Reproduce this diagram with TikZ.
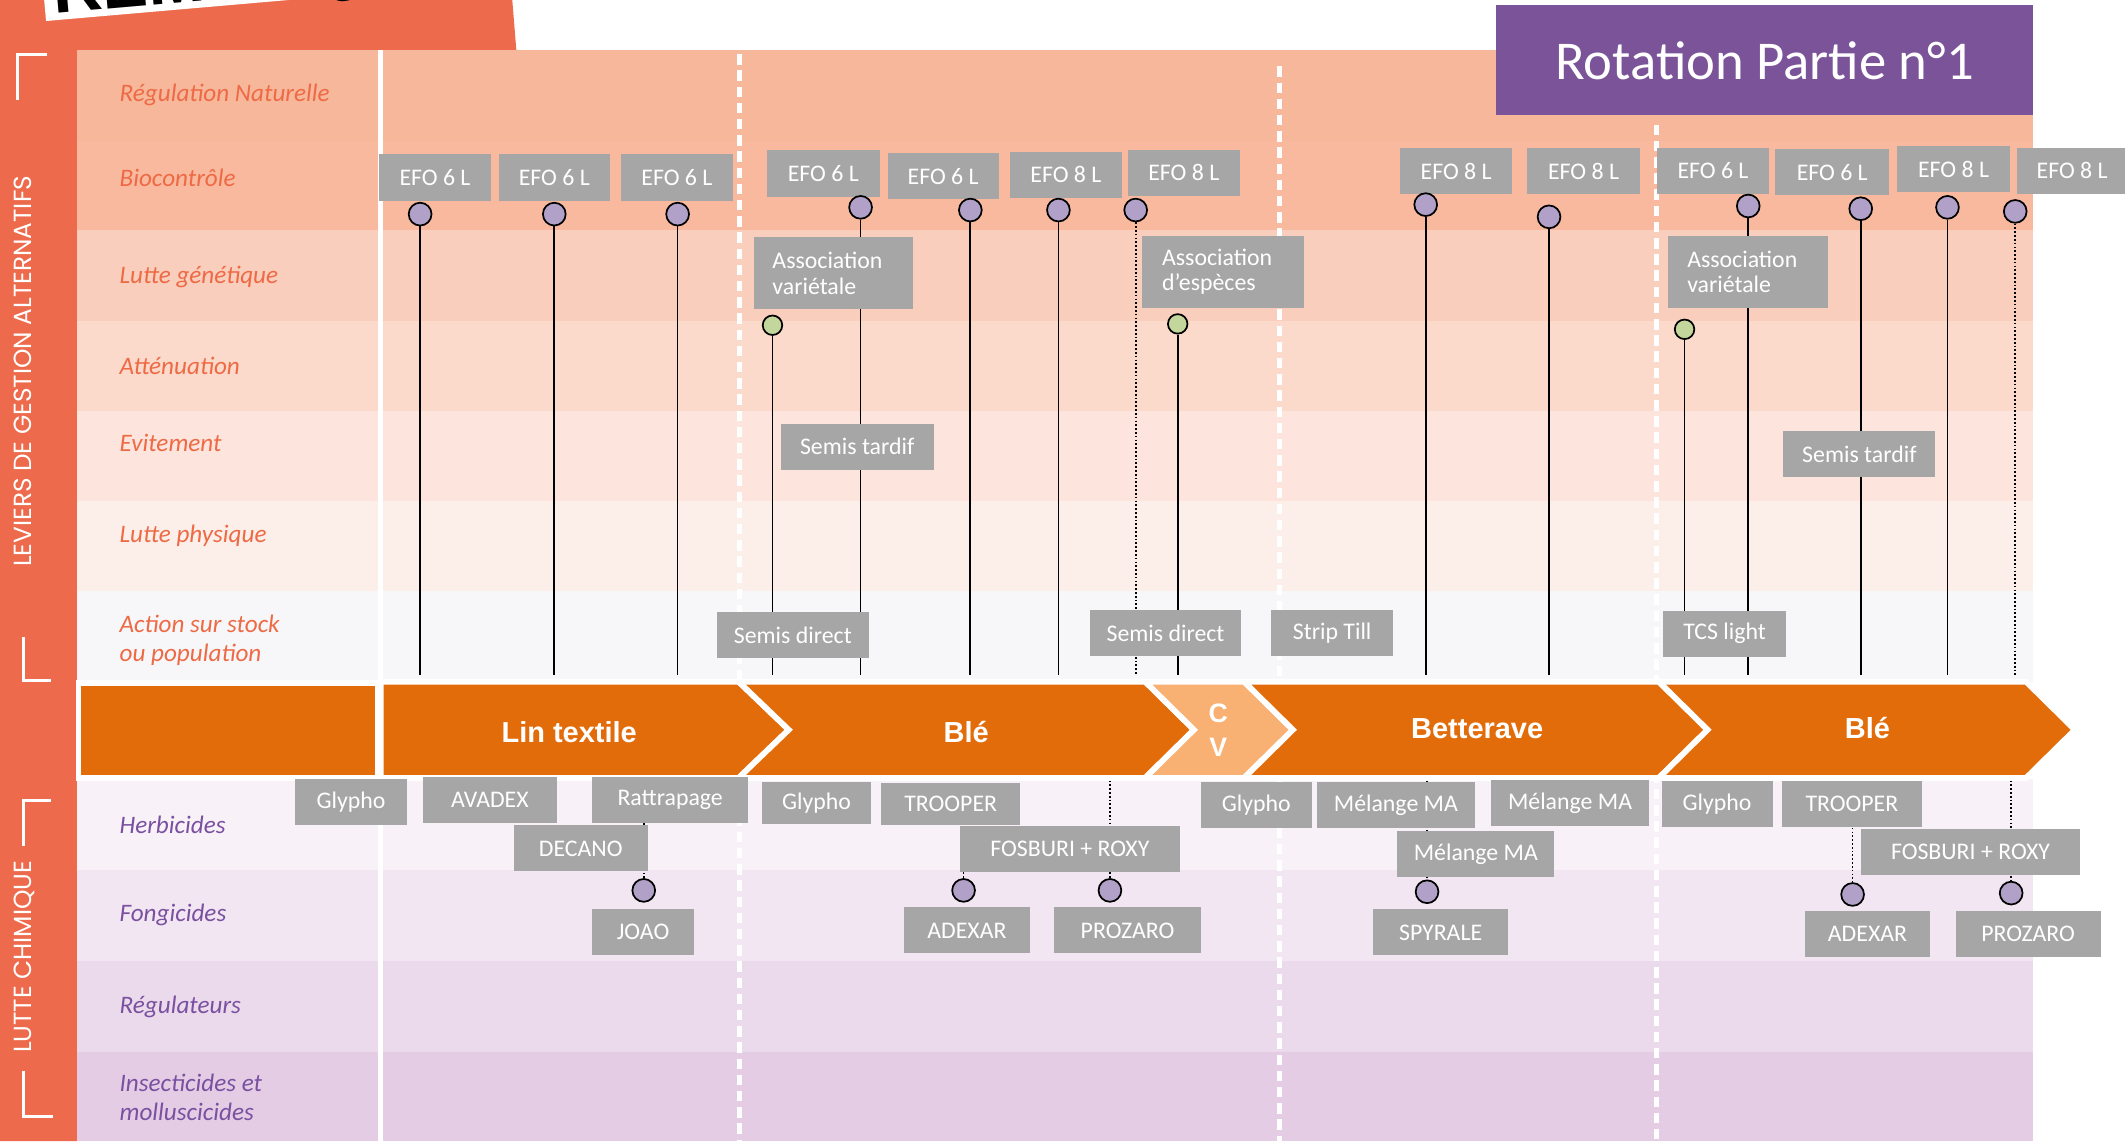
\documentclass[tikz,border=0pt]{standalone}
\usepackage{fontspec}
\setmainfont{Carlito}
\newfontfamily\arialfont{Liberation Sans}
\newfontfamily\sidefont{Poppins}

%colours
\definecolor{strip}{HTML}{ED6B4C}
\definecolor{rowA}{HTML}{F7B79B}
\definecolor{rowB}{HTML}{F8B99E}
\definecolor{rowC}{HTML}{F9CEBC}
\definecolor{rowD}{HTML}{FBDACB}
\definecolor{rowE}{HTML}{FDE5DD}
\definecolor{rowF}{HTML}{FCEFEA}
\definecolor{rowG}{HTML}{F7F7F9}
\definecolor{rowH}{HTML}{F8F2F8}
\definecolor{rowI}{HTML}{F2E6F2}
\definecolor{rowJ}{HTML}{EBDAEB}
\definecolor{rowK}{HTML}{E4CCE4}
\definecolor{band}{HTML}{E36C0A}
\definecolor{cvband}{HTML}{F8B073}
\definecolor{boxgray}{HTML}{A6A6A6}
\definecolor{dotpurple}{HTML}{B1A0C7}
\definecolor{dotgreen}{HTML}{C3D69B}
\definecolor{titlepurple}{HTML}{7B5399}
\definecolor{laborange}{HTML}{EE6A45}
\definecolor{labpurple}{HTML}{7A50A0}

\pgfdeclarelayer{rows}
\pgfdeclarelayer{links}
\pgfsetlayers{rows,links,main}

\begin{document}
\begin{tikzpicture}[x=0.025cm, y=-0.025cm,
    gbox/.style={fill=boxgray, text=white, inner sep=0pt,
        minimum width=#1*0.025cm, minimum height=0.85cm,
        font=\fontsize{12.5}{13.5}\selectfont},
    gbox/.default=82,
    assoc/.style={gbox=#1, minimum height=1.325cm, text width=2.25cm, align=left},
    assoc/.default=118,
    rowlab/.style={anchor=west, align=left, inner xsep=0pt, text=laborange,
        font=\fontsize{13.2}{15}\selectfont\itshape},
    chemlab/.style={rowlab, text=labpurple},
    bandlab/.style={text=white, font=\arialfont\bfseries\fontsize{15.2}{17}\selectfont},
    sidelab/.style={text=white, rotate=90, font=\sidefont\fontsize{13}{14}\selectfont},
    sidebracket/.style={white, line width=1.6pt},
    pdot/.style={circle, draw=black, line width=0.9pt, fill=dotpurple,
        minimum size=0.42cm, inner sep=0pt},
    gdot/.style={pdot, fill=dotgreen, minimum size=0.36cm},
    stemline/.style={line width=0.9pt},
    dotline/.style={line width=0.9pt, dash pattern=on 0.9pt off 1.1pt},
    colsep/.style={white, line width=2.6pt, dash pattern=on 5.5pt off 3pt},
    chev/.style={fill=band, draw=white, line width=3pt, line join=miter}]

    \clip (0,0) rectangle (1568,842);

    \begin{pgfonlayer}{rows}
    %left strip and tab
    \fill[strip] (0,0) -- (378,0) -- (381,37) -- (57,37) -- (57,842) -- (0,842) -- cycle;
    \fill[white] (34,15.5) -- (213,0) -- (32.6,0) -- cycle;

    %rows
    \fill[rowA] (57,37) rectangle (1500,104);
    \fill[rowB] (57,104) rectangle (1500,170);
    \fill[rowC] (57,170) rectangle (1500,237);
    \fill[rowD] (57,237) rectangle (1500,303);
    \fill[rowE] (57,303) rectangle (1500,370);
    \fill[rowF] (57,370) rectangle (1500,436);
    \fill[rowG] (57,436) rectangle (1500,503);
    \fill[rowH] (57,575) rectangle (1500,642);
    \fill[rowI] (57,642) rectangle (1500,709);
    \fill[rowJ] (57,709) rectangle (1500,776);
    \fill[rowK] (57,776) rectangle (1500,842);

    %column lines
    \draw[white, line width=2.6pt] (281,37) -- (281,842);
    \draw[colsep] (546,40) -- (546,842);
    \draw[colsep] (944,49) -- (944,842);
    \draw[colsep] (1222,92) -- (1222,842);

    %crop band
    \filldraw[chev] (58,504) rectangle (279,574);
    \filldraw[chev] (281,503) -- (545,503) -- (582,538.5) -- (545,574) -- (281,574) -- cycle;
    \filldraw[chev] (545,503) -- (845,503) -- (881,538.5) -- (845,574) -- (545,574) -- (582,538.5) -- cycle;
    \filldraw[chev, fill=cvband] (845,503) -- (918,503) -- (954,538.5) -- (918,574) -- (845,574) -- (881,538.5) -- cycle;
    \filldraw[chev] (918,503) -- (1224,503) -- (1260,538.5) -- (1224,574) -- (918,574) -- (954,538.5) -- cycle;
    \filldraw[chev] (1224,503) -- (1495,503) -- (1531,538.5) -- (1495,574) -- (1224,574) -- (1260,538.5) -- cycle;
    \end{pgfonlayer}

    %tab label
    \node[rotate=5, anchor=base west, inner sep=0pt,
        font=\arialfont\bfseries\fontsize{36}{36}\selectfont] (remark) at (40,10) {REMARQUE};

    %title
    \node[fill=titlepurple, text=white, minimum width=9.9cm, minimum height=2.025cm,
        font=\fontsize{28.7}{30}\selectfont] (title) at (1302,44.5) {Rotation Partie n°1};

    %side labels
    \node[sidelab] (levier) at (17,274) {LEVIERS DE GESTION ALTERNATIFS};
    \node[sidelab] (lutte) at (18,706) {LUTTE CHIMIQUE};
    \draw[sidebracket] (35,40) -- (13,40) -- (13,74);
    \draw[sidebracket] (17,470) -- (17,502) -- (38,502);
    \draw[sidebracket] (38,591) -- (17,591) -- (17,624);
    \draw[sidebracket] (17,790) -- (17,824) -- (39,824);

    %row labels
    \node[rowlab] (rnat) at (88,70) {Régulation Naturelle};
    \node[rowlab] (rbio) at (88,131) {Biocontrôle};
    \node[rowlab] (rgen) at (88,204) {Lutte génétique};
    \node[rowlab] (ratt) at (88,270) {Atténuation};
    \node[rowlab] (revi) at (88,327) {Evitement};
    \node[rowlab] (rphy) at (88,395) {Lutte physique};
    \node[rowlab] (rsto) at (88,472.5) {Action sur stock\\ou population};
    \node[chemlab] (rher) at (88,609) {Herbicides};
    \node[chemlab] (rfon) at (88,675) {Fongicides};
    \node[chemlab] (rreg) at (88,743) {Régulateurs};
    \node[chemlab] (rins) at (88,809.5) {Insecticides et\\molluscicides};

    %crops
    \node[bandlab] (lin) at (420,540) {Lin textile};
    \node[bandlab] (ble1) at (713,540) {Blé};
    \node[bandlab, align=center, font=\arialfont\bfseries\fontsize{14}{17.8}\selectfont] (cv) at (899,538.5) {C\\V};
    \node[bandlab] (bett) at (1090,538) {Betterave};
    \node[bandlab] (ble2) at (1378,537) {Blé};
    \coordinate (bandtop) at (0,498);
    \coordinate (bandbot) at (0,576);

    %biocontrole
    \node[gbox] (b1) at (321,131) {EFO 6 L};
    \node[gbox] (b2) at (409,131) {EFO 6 L};
    \node[gbox=83] (b3) at (499.5,131) {EFO 6 L};
    \node[gbox=83] (b4) at (607.5,128) {EFO 6 L};
    \node[gbox] (b5) at (696,130) {EFO 6 L};
    \node[gbox=83] (b6) at (786.5,129) {EFO 8 L};
    \node[gbox=83] (b7) at (873.5,127.5) {EFO 8 L};
    \node[gbox=83] (b8) at (1074.5,126.5) {EFO 8 L};
    \node[gbox=83] (b9) at (1168.5,126.5) {EFO 8 L};
    \node[gbox] (b10) at (1264,126) {EFO 6 L};
    \node[gbox=84] (b11) at (1352,127) {EFO 6 L};
    \node[gbox=83] (b12) at (1441.5,125) {EFO 8 L};
    \node[gbox] (b13) at (1529,126) {EFO 8 L};

    %alternative levers
    \node[assoc] (a1) at (615,201.5) {Association\\variétale};
    \node[assoc=119] (a2) at (902.5,200.5) {Association\\d’espèces};
    \node[assoc] (a3) at (1290,200.5) {Association\\variétale};
    \node[gbox=113] (t1) at (632.5,329.5) {Semis tardif};
    \node[gbox=112] (t2) at (1372,335) {Semis tardif};
    \node[gbox=112] (s1) at (585,468.5) {Semis direct};
    \node[gbox=112] (s2) at (860,467) {Semis direct};
    \node[gbox=90] (s3) at (983,467) {Strip Till};
    \node[gbox=91] (s4) at (1272.5,467.5) {TCS light};

    %dots
    \node[pdot] (p1) at (310,158) {};
    \node[pdot] (p2) at (409,158) {};
    \node[pdot] (p3) at (500,158) {};
    \node[pdot] (p4) at (635,153) {};
    \node[pdot] (p5) at (716,155) {};
    \node[pdot] (p6) at (781,155) {};
    \node[pdot] (p7) at (838,155) {};
    \node[pdot] (p8) at (1052,151) {};
    \node[pdot] (p9) at (1143,160) {};
    \node[pdot] (p10) at (1290,152) {};
    \node[pdot] (p11) at (1373,154) {};
    \node[pdot] (p12) at (1437,153) {};
    \node[pdot] (p13) at (1487,156) {};
    \node[gdot] (g1) at (570,240) {};
    \node[gdot] (g2) at (869,239) {};
    \node[gdot] (g3) at (1243,243) {};

    %herbicides
    \node[gbox] (h1) at (259,592) {Glypho};
    \node[gbox=99] (h2) at (361.5,590) {AVADEX};
    \node[gbox=115] (h3) at (494.5,590) {Rattrapage};
    \node[gbox=99] (h4) at (428.5,626) {DECANO};
    \node[gbox=81, minimum height=0.76cm] (h5) at (602.5,592.5) {Glypho};
    \node[gbox=103, minimum height=0.78cm] (h6) at (701.5,593.5) {TROOPER};
    \node[gbox=163] (h7) at (789.5,626.5) {FOSBURI + ROXY};
    \node[gbox] (h8) at (927,594) {Glypho};
    \node[gbox=116] (h9) at (1030,594) {Mélange MA};
    \node[gbox=117] (h10) at (1158.5,592.5) {Mélange MA};
    \node[gbox=116] (h11) at (1089,630) {Mélange MA};
    \node[gbox] (h12) at (1267,593) {Glypho};
    \node[gbox=103] (h13) at (1366.5,593.5) {TROOPER};
    \node[gbox=162] (h14) at (1454,628.5) {FOSBURI + ROXY};

    %fongicides
    \node[pdot] (q1) at (475,657) {};
    \node[pdot] (q2) at (711,657) {};
    \node[pdot] (q3) at (819,657) {};
    \node[pdot] (q4) at (1053,658) {};
    \node[pdot] (q5) at (1367,660) {};
    \node[pdot] (q6) at (1484,659) {};
    \node[gbox=75] (f1) at (474.5,687.5) {JOAO};
    \node[gbox=93] (f2) at (713.5,686.5) {ADEXAR};
    \node[gbox=108] (f3) at (832,686.5) {PROZARO};
    \node[gbox=100] (f4) at (1063,688) {SPYRALE};
    \node[gbox=92] (f5) at (1378,689) {ADEXAR};
    \node[gbox=107] (f6) at (1496.5,689) {PROZARO};

    \begin{pgfonlayer}{links}
    %stems
    \draw[stemline] (p1) -- (p1 |- bandtop);
    \draw[stemline] (p2) -- (p2 |- bandtop);
    \draw[stemline] (p3) -- (p3 |- bandtop);
    \draw[stemline] (p4) -- (p4 |- bandtop);
    \draw[stemline] (p5) -- (p5 |- bandtop);
    \draw[stemline] (p6) -- (p6 |- bandtop);
    \draw[dotline] (p7) -- (p7 |- bandtop);
    \draw[stemline] (p8) -- (p8 |- bandtop);
    \draw[stemline] (p9) -- (p9 |- bandtop);
    \draw[stemline] (p10) -- (p10 |- bandtop);
    \draw[stemline] (p11) -- (p11 |- bandtop);
    \draw[stemline] (p12) -- (p12 |- bandtop);
    \draw[dotline] (p13) -- (p13 |- bandtop);
    \draw[stemline] (g1) -- (g1 |- bandtop);
    \draw[stemline] (g2) -- (g2 |- bandtop);
    \draw[stemline] (g3) -- (g3 |- bandtop);

    %chemical links
    \draw[dotline] (h3.south -| q1) -- (q1);
    \draw[dotline] (h7.south -| q2) -- (q2);
    \draw[dotline] (q3 |- bandbot) -- (q3);
    \draw[dotline] (q4 |- bandbot) -- (q4);
    \draw[dotline] (h13.south -| q5) -- (q5);
    \draw[dotline] (q6 |- bandbot) -- (q6);
    \end{pgfonlayer}
\end{tikzpicture}
\end{document}
